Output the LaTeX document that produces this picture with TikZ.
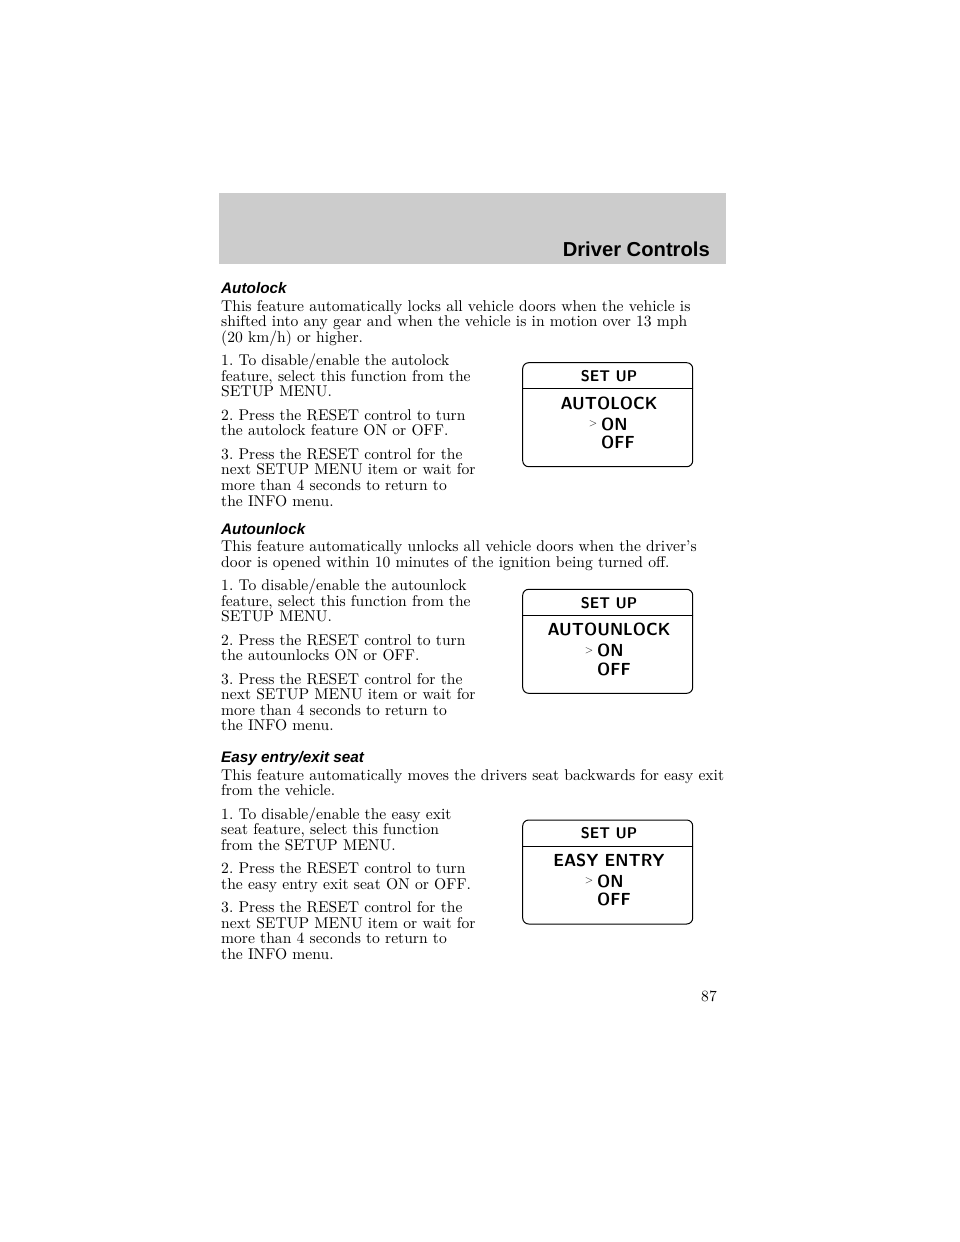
\documentclass[tikz,border=0pt]{standalone}
\usepackage{fontspec}
\usepackage{graphicx}
\newfontfamily\headfont{Liberation Sans}
\newfontfamily\bodyfont{lmroman10-regular}[Extension=.otf]
\frenchspacing
\newcommand{\lcdtext}[1]{\scalebox{.95}[1]{#1}}
\begin{document}
\begin{tikzpicture}[x=1pt,y=-1pt,line join=round,line cap=round,
	txt/.style={anchor=base west,inner sep=0pt,font=\bodyfont\fontsize{15.6}{17}\selectfont},
	head/.style={anchor=base west,inner sep=0pt,font=\headfont\bfseries\itshape\fontsize{15.3}{17}\selectfont},
	lcd/.style={inner sep=0pt,font=\sffamily\bfseries\fontsize{17.5}{18}\selectfont},
	panel/.style={draw,line width=1pt,rounded corners=6pt}]
	\useasboundingbox(0,0)rectangle(960,1242);
	% header bar
	\fill[black!20](219,193)rectangle(726,264);
	\node[anchor=base east,inner sep=0pt,font=\headfont\bfseries\fontsize{20.2}{22}\selectfont](title)at(710,256){Driver Controls};
	% Autolock
	\node[head](h1)at(221,293){Autolock};
	\foreach \y/\t [count=\i] in {311/This feature automatically locks all vehicle doors when the vehicle is,
		326.6/shifted into any gear and when the vehicle is in motion over 13 mph,
		342.2/{(20 km/h) or higher.},
		365.6/{1. To disable/enable the autolock},
		381.2/{feature, select this function from the},
		396.8/SETUP MENU.,
		420.2/2. Press the RESET control to turn,
		435.8/the autolock feature ON or OFF.,
		459.2/3. Press the RESET control for the,
		474.8/next SETUP MENU item or wait for,
		490.4/more than 4 seconds to return to,
		506/the INFO menu.}
		\node[txt](a\i)at(221,\y){\t};
	% Autounlock
	\node[head](h2)at(221,534){Autounlock};
	\foreach \y/\t [count=\i] in {551.5/This feature automatically unlocks all vehicle doors when the driver’s,
		567.1/door is opened within 10 minutes of the ignition being turned off.,
		590.5/{1. To disable/enable the autounlock},
		606.1/{feature, select this function from the},
		621.7/SETUP MENU.,
		645.1/2. Press the RESET control to turn,
		660.7/the autounlocks ON or OFF.,
		684.1/3. Press the RESET control for the,
		699.7/next SETUP MENU item or wait for,
		715.3/more than 4 seconds to return to,
		730.9/the INFO menu.}
		\node[txt](b\i)at(221,\y){\t};
	% Easy entry/exit seat
	\node[head](h3)at(221,762){Easy entry/exit seat};
	\foreach \y/\t [count=\i] in {780/This feature automatically moves the drivers seat backwards for easy exit,
		795.6/from the vehicle.,
		819/{1. To disable/enable the easy exit},
		834.6/{seat feature, select this function},
		850.2/from the SETUP MENU.,
		873.6/2. Press the RESET control to turn,
		889.2/the easy entry exit seat ON or OFF.,
		912.6/3. Press the RESET control for the,
		928.2/next SETUP MENU item or wait for,
		943.8/more than 4 seconds to return to,
		959.4/the INFO menu.}
		\node[txt](c\i)at(221,\y){\t};
	% display panels
	\foreach \top/\item/\dx [count=\k] in {362.7/AUTOLOCK/4,589.3/AUTOUNLOCK/0,820/EASY ENTRY/0}{
		\draw[panel](522.7,\top)rectangle(692.7,\top+104);
		\draw[line width=1pt](522.7,\top+26)--(692.7,\top+26);
		\node[lcd,anchor=base,font=\sffamily\bfseries\fontsize{15.5}{16}\selectfont](s\k)at(609,\top+18.8){\lcdtext{SET UP}};
		\node[lcd,anchor=base](m\k)at(609,\top+46.3){\lcdtext{\item}};
		\node[lcd,anchor=center,font=\sffamily\fontsize{11}{11}\selectfont](g\k)at(589+\dx,\top+61){>};
		\node[lcd,anchor=base west](on\k)at(597+\dx,\top+67.3){\lcdtext{ON}};
		\node[lcd,anchor=base west](off\k)at(597+\dx,\top+85.7){\lcdtext{OFF}};
	}
	\node[txt,anchor=base east](pg)at(717,1001.7){87};
\end{tikzpicture}
\end{document}
